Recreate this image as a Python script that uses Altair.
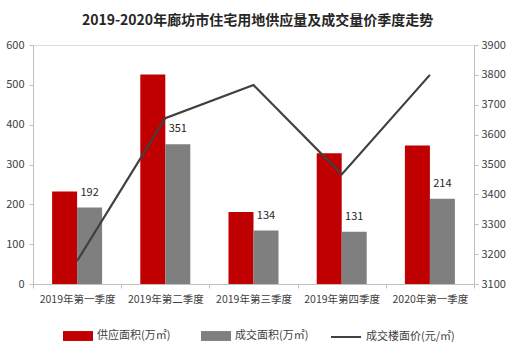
import altair as alt
import pandas as pd

quarters = ["2019年第一季度", "2019年第二季度", "2019年第三季度", "2019年第四季度", "2020年第一季度"]
supply = [232, 526, 181, 328, 348]
deal = [192, 351, 134, 131, 214]
price = [3177, 3655, 3766, 3467, 3800]
series_names = ["供应面积(万㎡)", "成交面积(万㎡)"]
line_name = "成交楼面价(元/㎡)"
bar_colors = ["#C00000", "#7F7F7F"]
line_color = "#404040"
title_text = "2019-2020年廊坊市住宅用地供应量及成交量价季度走势"
left_ticks = [0, 100, 200, 300, 400, 500, 600]
right_ticks = [3100, 3200, 3300, 3400, 3500, 3600, 3700, 3800, 3900]

FONT = "Noto Sans CJK SC"

rows = []
for q, s, d in zip(quarters, supply, deal):
    rows.append({"quarter": q, "series": series_names[0], "value": s})
    rows.append({"quarter": q, "series": series_names[1], "value": d})
bars_df = pd.DataFrame(rows)
deal_df = pd.DataFrame({"quarter": quarters, "series": series_names[1], "value": deal})
price_df = pd.DataFrame({"quarter": quarters, "name": line_name, "price": price})

x_enc = alt.X(
    "quarter:N",
    sort=quarters,
    scale=alt.Scale(paddingInner=0, paddingOuter=0),
    axis=alt.Axis(
        title=None, labelAngle=0, tickBand="extent", domainColor="#BFBFBF",
        tickColor="#BFBFBF", tickSize=4, labelFontSize=10.5, labelColor="#404040",
        labelPadding=6, labelFont=FONT,
    ),
)
xoff = alt.XOffset("series:N", sort=series_names,
                   scale=alt.Scale(domain=series_names, paddingOuter=0.764, paddingInner=0))

left_scale = alt.Scale(domain=[0, 600], nice=False)
left_axis = alt.Axis(
    title=None, values=left_ticks, grid=False, labelOverlap=False, format="d",
    domainColor="#BFBFBF", tickColor="#BFBFBF", tickSize=4, labelPadding=5,
    labelFontSize=11, labelColor="#404040", labelFont=FONT,
)

bars = alt.Chart(bars_df).mark_bar().encode(
    x=x_enc,
    xOffset=xoff,
    y=alt.Y("value:Q", scale=left_scale, axis=left_axis),
    color=alt.Color(
        "series:N", sort=series_names,
        scale=alt.Scale(domain=series_names, range=bar_colors),
        legend=alt.Legend(
            title=None, orient="none", legendX=30, legendY=276, direction="horizontal",
            symbolType="M-1,-0.33H1V0.33H-1Z", symbolSize=900, symbolStrokeWidth=0,
            labelFontSize=11, labelColor="#404040", labelFont=FONT, columnPadding=30,
            padding=0, labelOffset=4,
        ),
    ),
)

labels = alt.Chart(deal_df).mark_text(
    dy=-10, fontSize=11, color="#262626", font=FONT, baseline="bottom"
).encode(
    x=alt.X("quarter:N", sort=quarters),
    xOffset=alt.XOffset("series:N", sort=series_names),
    y=alt.Y("value:Q", scale=left_scale, axis=left_axis),
    text=alt.Text("value:Q"),
)

line = alt.Chart(price_df).mark_line(strokeWidth=2.2).encode(
    x=alt.X("quarter:N", sort=quarters),
    y=alt.Y(
        "price:Q",
        scale=alt.Scale(domain=[3100, 3900], nice=False),
        axis=alt.Axis(
            title=None, orient="right", values=right_ticks, format="d", labelOverlap=False,
            grid=False, domainColor="#BFBFBF", tickColor="#BFBFBF", tickSize=4,
            labelPadding=3, labelFontSize=11, labelColor="#404040", labelFont=FONT,
        ),
    ),
    stroke=alt.Stroke(
        "name:N",
        scale=alt.Scale(domain=[line_name], range=[line_color]),
        legend=alt.Legend(
            title=None, orient="none", legendX=297, legendY=276, direction="horizontal",
            symbolType="stroke", symbolSize=900, symbolStrokeWidth=2,
            labelFontSize=11, labelColor="#404040", labelFont=FONT, padding=0, labelOffset=4,
        ),
    ),
)

chart = alt.layer(alt.layer(bars, labels), line).resolve_scale(y="independent").properties(
    width=441,
    height=239,
    autosize=alt.AutoSizeParams(type="none"),
    padding={"left": 33, "top": 45, "right": 42, "bottom": 60},
    title=alt.TitleParams(
        title_text, fontSize=14, fontWeight="bold", font=FONT, color="#262626",
        offset=11, anchor="middle", dx=4,
    ),
).configure_view(stroke=None).configure(background="white")

chart.save("out.html", embed_options={"renderer": "svg", "actions": False})
